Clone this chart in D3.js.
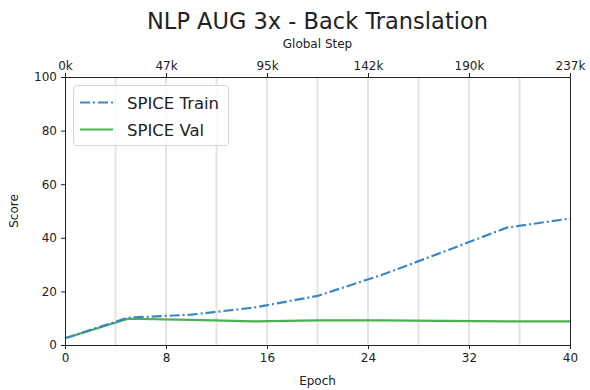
<!DOCTYPE html>
<html><head><meta charset="utf-8">
<script src="https://cdn.jsdelivr.net/npm/d3@7"></script>
<style>body{margin:0;background:#fff;} text{font-family:"DejaVu Sans",sans-serif;}</style>
</head><body><svg id="c" width="590" height="390"></svg>
<script>
const epochs = [0, 5, 10, 15, 20, 25, 30, 35, 40];
const spiceTrain = [2.5, 10.2, 11.3, 14.0, 18.3, 26.0, 34.8, 43.8, 47.2];
const spiceVal = [2.5, 9.8, 9.4, 8.8, 9.2, 9.2, 9.0, 8.8, 8.8];
const epochTicks = [0, 8, 16, 24, 32, 40];
const stepLabels = ["0k", "47k", "95k", "142k", "190k", "237k"];
const yTicks = [0, 20, 40, 60, 80, 100];
const gridEpochs = [4, 8, 12, 16, 20, 24, 28, 32, 36];

(function () {
const svg = d3.select("#c");
const L = 65, R = 570, T = 77, B = 345;
const x = d3.scaleLinear().domain([0, 40]).range([L, R]);
const y = d3.scaleLinear().domain([0, 100]).range([B, T]);

// vertical grid
svg.append("g").selectAll("line").data(gridEpochs).join("line")
  .attr("x1", d => x(d)).attr("x2", d => x(d)).attr("y1", T).attr("y2", B)
  .attr("stroke", "#e4e4e4").attr("stroke-width", 2);

const line = d3.line().x(d => x(d[0])).y(d => y(d[1]));
svg.append("path").datum(epochs.map((e, i) => [e, spiceVal[i]]))
  .attr("d", line).attr("fill", "none").attr("stroke", "#4caf50").attr("stroke-width", 2.2);
svg.append("path").datum(epochs.map((e, i) => [e, spiceTrain[i]]))
  .attr("d", line).attr("fill", "none").attr("stroke", "#3a87c8").attr("stroke-width", 2.2)
  .attr("stroke-dasharray", "10,3,2,3");

// axes
const fs = "12px";
const axB = svg.append("g").attr("transform", `translate(0,${B})`)
  .call(d3.axisBottom(x).tickValues(epochTicks).tickSize(4).tickPadding(4));
const axT = svg.append("g").attr("transform", `translate(0,${T})`)
  .call(d3.axisTop(x).tickValues(epochTicks).tickSize(4).tickPadding(3)
    .tickFormat((d, i) => stepLabels[i]));
const axL = svg.append("g").attr("transform", `translate(${L},0)`)
  .call(d3.axisLeft(y).tickValues(yTicks).tickSize(4).tickPadding(4));
const axR = svg.append("g").attr("transform", `translate(${R},0)`)
  .call(d3.axisRight(y).tickValues([]).tickSize(0));
[axB, axT, axL, axR].forEach(g => {
  g.selectAll("text").style("font-size", fs).attr("fill", "#222");
  g.selectAll("line,path").attr("stroke", "#222");
  g.select(".domain").attr("stroke-width", 1);
});

svg.append("text").attr("x", (L + R) / 2).attr("y", 29).attr("text-anchor", "middle")
  .style("font-size", "22.5px").attr("fill", "#222").text("NLP AUG 3x - Back Translation");
svg.append("text").attr("x", (L + R) / 2).attr("y", 48).attr("text-anchor", "middle")
  .style("font-size", "12px").attr("fill", "#222").text("Global Step");
svg.append("text").attr("x", (L + R) / 2).attr("y", 385).attr("text-anchor", "middle")
  .style("font-size", "12px").attr("fill", "#222").text("Epoch");
svg.append("text").attr("transform", `translate(18,${(T + B) / 2}) rotate(-90)`)
  .attr("text-anchor", "middle").style("font-size", "12px").attr("fill", "#222").text("Score");

// legend
const lg = svg.append("g");
lg.append("rect").attr("x", 73.5).attr("y", 85.5).attr("width", 155).attr("height", 60).attr("rx", 3)
  .attr("fill", "#fff").attr("fill-opacity", 0.8).attr("stroke", "#d6d6d6");
const items = [["SPICE Train", "#3a87c8", "10,3,2,3"], ["SPICE Val", "#4caf50", null]];
items.forEach((it, i) => {
  const yy = 102.5 + i * 27;
  lg.append("line").attr("x1", 80).attr("x2", 113).attr("y1", yy).attr("y2", yy)
    .attr("stroke", it[1]).attr("stroke-width", 2.2).attr("stroke-dasharray", it[2]);
  lg.append("text").attr("x", 127).attr("y", yy + 6).style("font-size", "16.5px").attr("fill", "#222").text(it[0]);
});
})();
</script></body></html>
